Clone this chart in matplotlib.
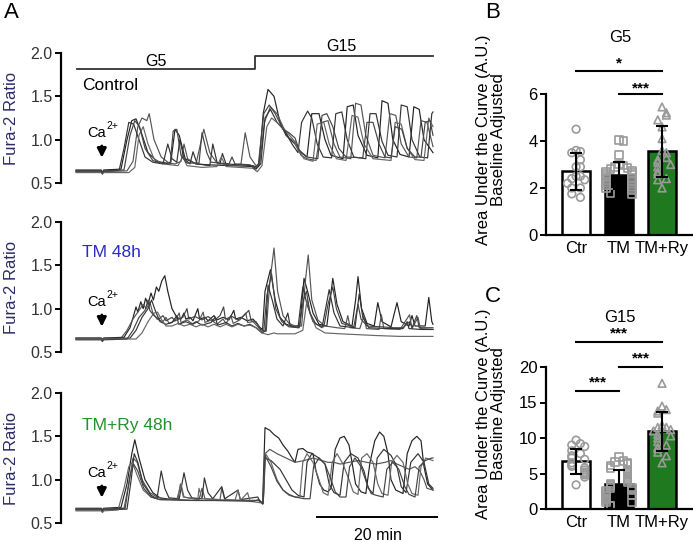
import numpy as np
import matplotlib
matplotlib.use('Agg')
import matplotlib.pyplot as plt

plt.rcParams['font.family'] = ['Liberation Sans', 'DejaVu Sans']
plt.rcParams['font.size'] = 11

# ---------------- data: Fura-2 traces (time in min, ratio) ----------------
ctrl_1 = [(0,0.65),(4.2,0.65),(4.4,0.62),(4.6,0.65),(7.5,0.66),(8.5,1.0),(9.3,1.22),(10.0,1.24),(10.8,1.1),(12,0.85),(13.5,0.75),(15,0.73),(15.8,0.74),(16.5,1.12),(17.2,1.05),(18.2,0.78),(20,0.72),(22,0.71),(26,0.70),(29.5,0.69),(30,0.66),(30.5,0.7),(31.2,1.3),(32.0,1.58),(33.0,1.5),(34,1.2),(35,1.05),(36.5,0.95),(37.5,0.85),(38.5,0.8),(39.3,1.3),(40.5,1.3),(41.5,1.0),(42.5,0.82),(44.5,0.78),(45.2,1.38),(46.2,1.4),(47,1.05),(48.5,0.82),(50.3,0.79),(51,1.45),(52,1.42),(52.8,1.0),(54,0.83),(55.5,0.8),(56.3,1.38),(57.2,1.35),(58,1.0),(59.5,0.85)]
ctrl_2 = [(0,0.63),(4.2,0.63),(4.4,0.61),(4.6,0.63),(8.5,0.64),(9.5,0.75),(10.3,1.15),(11,1.25),(11.8,1.22),(12.2,1.3),(13,1.0),(14.2,0.8),(15.5,0.73),(16.5,0.72),(17.5,0.75),(18,0.95),(18.6,0.78),(20,0.72),(21.3,1.12),(22.3,0.85),(23.5,0.73),(26,0.7),(27.5,0.72),(28.2,1.08),(29,0.8),(30,0.7),(30.6,0.72),(31.4,1.2),(32.4,1.38),(33.5,1.3),(34.5,1.15),(35.5,1.02),(36.5,0.98),(37.5,0.82),(38.5,0.78),(40,0.76),(41,1.2),(42,1.22),(43,0.95),(44,0.8),(45.8,0.78),(46.6,1.42),(47.5,1.4),(48.3,1.05),(49.5,0.82),(51.5,0.79),(52.3,1.3),(53.3,1.28),(54.2,0.95),(55.5,0.8),(56.8,0.79),(57.5,1.22),(58.5,1.2),(59.5,0.92)]
ctrl_3 = [(0,0.64),(4.2,0.64),(4.4,0.62),(4.6,0.64),(7.2,0.65),(8.0,0.9),(8.8,1.2),(9.6,1.18),(10.5,1.0),(11.5,0.8),(12.8,0.74),(14.5,0.72),(15.3,0.95),(16,0.78),(16.8,0.74),(17.3,1.0),(18,0.78),(19,0.72),(19.5,0.86),(20.2,0.72),(22.3,0.7),(22.8,0.95),(23.5,0.74),(24,0.72),(24.4,0.84),(25,0.72),(29.5,0.7),(30.2,0.68),(30.8,0.72),(31.5,1.25),(32.4,1.35),(33.5,1.2),(34.8,1.1),(36,0.95),(37,0.85),(37.6,1.2),(38.6,1.33),(39.3,1.25),(40.2,0.95),(41.2,0.8),(42.6,0.79),(43.3,1.3),(44.3,1.32),(45.2,1.0),(46.3,0.8),(48.3,0.78),(49,1.3),(50,1.3),(51,0.98),(52,0.82),(53.5,0.8),(54.2,1.4),(55.2,1.38),(56,1.0),(57.3,0.8),(58.6,0.79),(59.3,1.3),(59.5,1.32)]
ctrl_4 = [(0,0.62),(4.2,0.62),(4.4,0.60),(4.6,0.62),(8.8,0.62),(9.8,0.68),(10.5,1.05),(11.2,1.15),(12,0.95),(13,0.78),(14.5,0.72),(17,0.7),(17.8,0.8),(18.5,0.7),(21,0.68),(23.5,0.69),(24.2,0.8),(25,0.69),(29.5,0.67),(30.2,0.63),(31,0.7),(31.8,1.15),(32.6,1.25),(33.8,1.18),(35,1.1),(36.2,1.0),(37,0.88),(38,0.78),(39.5,0.75),(40.2,1.18),(41.3,1.2),(42.2,0.95),(43.4,0.78),(45,0.76),(46,1.28),(47,1.26),(48,0.95),(49.5,0.78),(52.5,0.76),(53.2,1.2),(54.2,1.18),(55.2,0.9),(56.5,0.77),(58,0.76),(58.8,1.25),(59.5,1.15)]
ctrl_5 = [(0,0.64),(4.2,0.64),(4.4,0.61),(4.6,0.64),(8.0,0.65),(9.0,1.05),(9.8,1.22),(10.6,1.15),(11.5,0.9),(12.8,0.76),(14,0.73),(15.7,0.72),(16.2,1.1),(16.8,1.12),(17.5,0.82),(18.5,0.73),(20.5,0.73),(21,1.08),(21.8,0.85),(22.5,0.74),(25.5,0.72),(26,0.8),(26.5,0.72),(29,0.71),(29.8,0.66),(30.4,0.72),(31.3,1.3),(32.2,1.4),(33.2,1.3),(34.5,1.12),(35.5,1.08),(36.5,1.02),(37.2,0.88),(38.5,0.8),(40.3,0.78),(41,1.28),(41.8,1.3),(42.8,1.15),(43.8,0.9),(45,0.8),(47.8,0.79),(48.5,1.2),(49.5,1.2),(50.5,0.95),(51.5,0.8),(52.5,0.79),(53.2,1.15),(54.3,1.12),(55.2,0.9),(56.5,0.8),(57.5,0.8),(58.2,1.2),(59.0,1.22),(59.5,1.05)]

tm_1 = [(0,0.66),(4.2,0.66),(4.4,0.64),(4.6,0.66),(8,0.67),(9,0.78),(9.6,0.92),(10,1.02),(10.3,0.96),(10.8,1.08),(11.2,1.0),(11.6,1.12),(12,1.05),(12.5,1.18),(12.9,1.1),(13.4,1.25),(13.8,1.2),(14.3,1.32),(14.8,1.38),(15.3,1.2),(16,1.0),(16.8,0.9),(17.5,0.88),(18,0.95),(18.3,0.88),(19,0.9),(19.5,0.86),(20.3,1.0),(20.6,0.88),(21.5,0.9),(22,0.86),(23,0.92),(23.5,0.87),(24.5,0.9),(25.5,0.87),(26.3,0.98),(26.6,0.88),(27.5,0.9),(28.5,0.86),(29.5,0.88),(30,0.84),(30.7,0.78),(31.1,0.76),(31.5,1.2),(32.4,1.45),(33.2,1.1),(34,0.9),(35,0.82),(36,0.8),(37.3,0.8),(38,1.35),(38.6,1.2),(39.5,0.95),(40.5,0.82),(41.8,0.8),(42.8,1.35),(43.5,1.05),(44.5,0.85),(46,0.8),(46.6,1.1),(47,1.37),(47.6,1.0),(48.5,0.83),(49.7,0.8),(50.3,1.07),(51,0.85),(52.5,0.79),(53.5,1.07),(54.2,0.85),(55.5,0.8),(56,0.92),(56.5,0.8),(58.2,0.8),(58.8,1.13),(59.3,0.85),(59.5,0.82)]
tm_2 = [(0,0.65),(4.2,0.65),(4.4,0.63),(4.6,0.65),(7.5,0.66),(8.5,0.75),(9.5,0.88),(10.5,0.98),(11.2,1.05),(11.7,1.0),(12.3,1.08),(12.8,0.95),(13.5,0.88),(14.5,0.85),(15,0.9),(15.5,0.83),(16.5,0.86),(17.2,0.95),(17.5,0.84),(18.5,0.87),(19.5,0.82),(20.5,0.86),(21.2,0.96),(21.5,0.84),(22.5,0.87),(23.5,0.82),(24.5,0.88),(25,0.83),(25.8,0.92),(26.2,0.83),(27.3,0.87),(28.3,0.95),(28.6,0.84),(29.5,0.85),(30.2,0.8),(31,0.73),(31.7,0.74),(32.3,1.3),(33,1.7),(33.6,1.2),(34.5,0.92),(35.5,0.83),(36.5,0.8),(37.6,0.8),(38.2,1.3),(38.7,1.62),(39.3,1.1),(40.3,0.87),(41.5,0.8),(42.5,0.79),(43.5,0.78),(44.8,0.77),(45.3,0.92),(45.7,0.78),(47.3,0.77),(48,0.92),(48.4,0.77),(50.5,0.76),(50.9,0.93),(51.3,0.77),(54,0.76),(55.6,0.93),(56,0.77),(57,0.9),(57.4,0.77),(59.5,0.76)]
tm_3 = [(0,0.66),(4.2,0.66),(4.4,0.64),(4.6,0.66),(9,0.66),(10,0.75),(11,0.9),(12,1.0),(12.6,1.1),(13.2,0.98),(14,0.85),(15,0.82),(16,0.84),(16.8,0.92),(17.1,0.82),(18.3,0.85),(19.3,0.82),(20,0.85),(21,0.81),(22.5,0.84),(23.2,0.9),(23.6,0.81),(25,0.84),(26,0.8),(27,0.83),(28,0.8),(29,0.82),(30,0.78),(31,0.72),(31.6,0.75),(32.0,1.27),(32.7,1.1),(33.5,0.88),(34.5,0.8),(35.3,0.95),(35.7,0.8),(37.0,0.78),(37.8,1.25),(38.5,1.05),(39.5,0.85),(41,0.78),(42.2,1.22),(43,0.95),(44,0.8),(46.5,0.78),(47.2,1.17),(47.8,0.9),(48.8,0.78),(52,0.77),(54.5,0.77),(55.2,0.85),(55.5,0.77),(57.5,0.76),(59.5,0.76)]
tm_4 = [(0,0.65),(4.2,0.65),(4.4,0.63),(4.6,0.65),(10,0.65),(11,0.72),(12,0.85),(13,0.95),(13.6,0.96),(14.2,0.88),(15,0.8),(16,0.8),(17,0.83),(18,0.8),(19,0.82),(20,0.79),(21,0.82),(22,0.79),(23,0.82),(24,0.79),(25,0.82),(26,0.79),(27,0.82),(28,0.8),(29,0.81),(30,0.78),(31,0.72),(32,0.7),(33,0.72),(33.5,0.71),(36.5,0.71),(37.8,0.75),(38.5,1.1),(39,0.95),(40,0.78),(41.5,0.72),(44,0.71),(47,0.7),(50,0.69),(54,0.68),(59.5,0.68)]
tm_5 = [(0,0.64),(4.2,0.64),(4.4,0.62),(4.6,0.64),(8.5,0.65),(9.5,0.75),(10.5,0.9),(11.5,0.98),(12,1.1),(12.3,0.98),(13,0.92),(13.8,0.88),(14.5,0.92),(15,0.86),(16,0.9),(16.5,0.86),(17.8,0.9),(18.5,1.0),(18.8,0.88),(19.8,0.91),(21,0.87),(22,0.91),(23,0.86),(24,0.92),(24.6,1.02),(24.9,0.88),(26,0.91),(27,0.87),(28,0.92),(28.8,0.98),(29.2,0.86),(30,0.85),(30.8,0.76),(31.3,0.74),(31.8,1.15),(32.6,1.4),(33.3,1.0),(34.3,0.85),(35.5,0.79),(37.2,0.78),(37.9,1.1),(38.4,1.2),(39,0.95),(40,0.82),(41.3,0.79),(42,1.05),(42.8,1.25),(43.4,1.0),(44.3,0.83),(46.3,0.79),(47,1.05),(47.5,0.88),(48.5,0.8),(51,0.79),(53,0.78),(54.5,0.78),(55.6,0.85),(56,0.78),(56.8,0.92),(57.2,0.78),(59.5,0.78)]

ry_1 = [(0,0.67),(4.2,0.67),(4.4,0.65),(4.6,0.67),(7.5,0.68),(8.5,0.95),(9.3,1.3),(9.8,1.46),(10.5,1.25),(11.5,1.0),(12.8,0.85),(14,0.79),(16,0.77),(20,0.76),(24,0.76),(28,0.76),(30.5,0.76),(31.1,0.72),(31.5,1.6),(32.3,1.57),(33.0,1.52),(33.8,1.48),(34.5,1.4),(35.3,1.33),(36,1.25),(36.5,1.2),(37.0,1.35),(37.8,1.36),(38.5,1.32),(39.5,1.3),(40,1.1),(40.6,0.95),(41.3,0.88),(42,0.86),(42.5,0.9),(43.2,1.35),(44,1.48),(44.7,1.5),(45.5,1.4),(46,1.2),(46.6,0.95),(47.5,0.86),(48.3,0.84),(49,1.2),(49.8,1.45),(50.6,1.55),(51.3,1.5),(52,1.3),(52.5,1.0),(53.3,0.88),(54.5,0.84),(55.2,1.3),(56,1.45),(56.8,1.5),(57.5,1.45),(58,1.15),(58.6,0.95),(59.5,0.88)]
ry_2 = [(0,0.66),(4.2,0.66),(4.4,0.64),(4.6,0.66),(8,0.67),(8.8,0.95),(9.5,1.25),(10.2,1.2),(11,1.0),(12.3,0.85),(13.5,0.8),(15,0.77),(17,0.78),(17.4,0.95),(17.9,0.8),(20.5,0.77),(21,0.9),(21.5,0.78),(24,0.77),(24.3,0.9),(24.8,0.77),(28,0.76),(30.5,0.76),(31.1,0.72),(31.5,1.3),(32.3,1.35),(33.5,1.3),(35,1.25),(36.5,1.2),(38,1.22),(39.5,1.25),(41,1.22),(42,1.2),(43,1.2),(44,1.18),(45.5,1.2),(47,1.22),(48.5,1.2),(50,1.18),(51.5,1.2),(52.5,1.22),(53.5,1.18),(54.5,1.15),(55.5,1.12),(56.5,1.15),(57.3,1.1),(58,1.0),(58.5,0.9),(59.5,0.88)]
ry_3 = [(0,0.65),(4.2,0.65),(4.4,0.63),(4.6,0.65),(8.5,0.66),(9.2,1.0),(9.7,1.3),(10.3,1.2),(11.2,0.95),(12.5,0.82),(13.5,0.78),(14.2,1.1),(14.8,0.9),(15.5,0.79),(17.2,0.78),(18,1.08),(18.6,0.88),(19.3,0.79),(21,0.78),(21.4,1.02),(22,0.85),(22.8,0.78),(24.3,0.92),(24.8,0.78),(27,0.88),(27.4,0.77),(30.3,0.8),(30.6,0.75),(31.2,0.73),(31.5,1.25),(32.5,1.22),(34,1.12),(35,1.0),(36,0.88),(37,0.82),(38,0.8),(38.5,1.2),(39.3,1.3),(40.5,1.25),(41.5,1.18),(42.2,0.95),(43,0.85),(44,0.82),(44.7,1.2),(45.8,1.3),(47,1.25),(48,1.1),(48.7,0.9),(49.5,0.84),(50.2,1.25),(51.3,1.35),(52.5,1.28),(53.5,1.15),(54.2,0.92),(55,0.85),(55.8,1.2),(57,1.3),(58,1.2),(58.8,0.95),(59.5,0.9)]
ry_4 = [(0,0.64),(4.2,0.64),(4.4,0.62),(4.6,0.64),(7,0.65),(8,0.9),(8.8,1.15),(9.4,1.2),(10.2,1.05),(11.2,0.88),(12.5,0.8),(14,0.77),(16.8,0.77),(17.5,0.95),(18,0.8),(20.3,0.77),(20.5,0.9),(21,0.78),(26.5,0.76),(27,0.88),(27.4,0.76),(28.6,0.85),(29,0.75),(31.2,0.73),(31.6,1.3),(32.5,1.2),(33.5,1.0),(34.5,0.88),(35.5,0.82),(36.5,0.8),(37.3,0.8),(37.8,1.2),(38.5,1.3),(39.5,1.2),(40.5,1.0),(41.2,0.85),(42,0.82),(42.7,1.2),(43.5,1.3),(44.5,1.18),(45.5,1.0),(46.2,0.86),(47,0.83),(47.6,1.25),(48.5,1.3),(49.5,1.2),(50.3,0.95),(51,0.84),(52,0.82),(52.6,1.2),(53.5,1.28),(54.5,1.2),(55.3,0.95),(56,0.84),(57,0.82),(57.5,1.15),(58.3,1.25),(59.5,1.22)]
ry_5 = [(0,0.66),(4.2,0.66),(4.4,0.64),(4.6,0.66),(8.2,0.67),(9,1.05),(9.6,1.18),(10.3,1.1),(11.3,0.9),(12.5,0.8),(14,0.77),(19,0.76),(23,0.76),(29.5,0.75),(30.5,0.77),(31.2,0.72),(31.5,1.28),(32.5,1.15),(33.5,0.98),(34.5,0.88),(35.5,0.83),(36.5,0.8),(38,0.78),(39,0.78),(39.6,1.15),(40.5,1.25),(41.5,1.18),(42.5,1.0),(43.2,0.86),(44,0.8),(45,0.8),(45.6,1.15),(46.5,1.25),(47.5,1.15),(48.5,0.95),(49.2,0.84),(50,0.82),(51.2,0.8),(51.8,1.12),(52.8,1.2),(53.8,1.12),(54.8,0.92),(55.5,0.83),(56.5,0.8),(57.2,1.15),(58.2,1.22),(59.3,1.25),(59.5,1.25)]

# ---------------- data: area under the curve ----------------
groups = ['Ctr', 'TM', 'TM+Ry']
ctr_g5 = [4.5, 3.6, 3.55, 3.5, 3.2, 2.9, 2.9, 2.5, 2.35, 2.5, 2.4, 2.2, 2.0, 2.0, 1.75, 1.6]
tm_g5 = [4.05, 4.0, 3.4, 3.0, 2.95, 2.9, 2.85, 2.8, 2.75, 2.7, 2.65, 2.6, 2.55, 2.5,
         2.45, 2.4, 2.35, 2.3, 2.25, 2.2, 2.15, 2.1, 2.05, 2.0, 1.95, 1.9, 1.8, 1.75]
tmry_g5 = [5.45, 5.2, 5.1, 4.9, 4.6, 4.1, 3.6, 3.5, 3.3, 3.2, 3.1, 3.0, 2.9, 2.7, 2.6, 2.4, 2.35, 2.0]
ctr_g15 = [9.7, 9.2, 9.0, 8.8, 8.2, 7.8, 7.5, 7.2, 7.0, 6.5, 6.2, 6.0, 5.8, 5.5, 5.0, 4.8, 3.4, 5.2, 4.5]
tm_g15 = [7.3, 6.8, 6.6, 6.5, 6.3, 6.1, 5.8, 5.5, 5.2, 5.0, 4.7, 4.5, 4.2, 4.0, 3.8, 3.6, 3.4, 3.2,
          3.0, 3.0, 2.8, 2.6, 2.5, 2.4, 2.2, 2.0, 1.9, 1.8, 1.6, 1.5, 1.4, 1.2, 1.0, 0.9, 0.5, 0.4]
tmry_g15 = [17.7, 14.5, 14.0, 13.8, 13.5, 11.5, 11.2, 11.5, 11.0, 10.5, 10.0, 9.5, 8.5, 8.0, 7.5,
            6.5, 11.8, 10.3, 9.0, 8.7]

W, H = 693, 542
fig = plt.figure(figsize=(W / 100, H / 100), dpi=100)


def px_axes(x0, y_top, x1, y_bot):
    return fig.add_axes([x0 / W, 1 - y_bot / H, (x1 - x0) / W, (y_bot - y_top) / H])


trace_cols = ['#222222', '#555555', '#333333', '#666666', '#444444']
panels = [
    ([ctrl_1, ctrl_2, ctrl_3, ctrl_4, ctrl_5], 53, 'Control', 'black', 1.62),
    ([tm_1, tm_2, tm_3, tm_4, tm_5], 222, 'TM 48h', '#2a2ac8', 1.65),
    ([ry_1, ry_2, ry_3, ry_4, ry_5], 393, 'TM+Ry 48h', '#22922a', 1.62),
]
trace_axes = []
for traces, ytop, lab, lab_col, lab_y in panels:
    ax = px_axes(61, ytop, 445, ytop + 130)
    for tr, c in zip(traces, trace_cols):
        t, v = zip(*tr)
        ax.plot(t, v, color=c, lw=0.85)
    ax.set_xlim(-2.5, 61.5)
    ax.set_ylim(0.5, 2.0)
    ax.set_yticks([0.5, 1.0, 1.5, 2.0])
    ax.set_yticklabels(['0.5', '1.0', '1.5', '2.0'], fontsize=11.5, color='#333333')
    ax.set_xticks([])
    for s in ['top', 'right', 'bottom']:
        ax.spines[s].set_visible(False)
    ax.spines['left'].set_linewidth(1.6)
    ax.tick_params(axis='y', length=4, width=1.4, pad=2)
    ax.set_ylabel('Fura-2 Ratio', fontsize=12, color='#2b2b6b', labelpad=8)
    ax.text(1.0, lab_y, lab, color=lab_col, fontsize=12.5, ha='left', va='center')
    # Ca2+ label, with the charge drawn as a small raised text
    ax.annotate('Ca', (4.3, 1.08), xytext=(3, 0), textcoords='offset points',
                fontsize=10.5, ha='right', va='center')
    ax.annotate('2+', (4.3, 1.08), xytext=(3, 5), textcoords='offset points',
                fontsize=7.5, ha='left', va='center')
    ax.annotate('', xy=(4.3, 0.76), xytext=(4.3, 0.96),
                arrowprops=dict(arrowstyle='-|>', color='k', lw=2.0, mutation_scale=13))
    trace_axes.append(ax)

ax = trace_axes[0]
ax.plot([0.1, 29.8, 29.8, 59.5], [1.815, 1.815, 1.965, 1.965], color='#333333', lw=1.3, clip_on=False)
ax.text(13.3, 1.9, 'G5', fontsize=11.5, ha='center', va='center')
ax.text(44.2, 2.07, 'G15', fontsize=11.5, ha='center', va='center', clip_on=False)

ax = trace_axes[2]
ax.plot([40.2, 60.2], [0.57, 0.57], color='k', lw=1.4, clip_on=False)
ax.text(50.3, 0.36, '20 min', fontsize=11.5, ha='center', va='center', clip_on=False)


# ---------------- bar panels ----------------
def swarm(vals, dy, step):
    slots = [0, 1, -1, 2, -2, 3, -3]
    order = np.argsort(vals)[::-1]
    offs = np.zeros(len(vals))
    placed = []
    for i in order:
        n = sum(1 for p in placed if abs(p - vals[i]) < dy)
        offs[i] = slots[n % len(slots)] * step
        placed.append(vals[i])
    return offs


bar_cols = ['white', 'black', '#1f7a1f']
markers = ['o', 's', '^']


def bar_panel(ax, sets, dy, ymax, yticks):
    x = np.arange(len(sets))
    means = [np.mean(s) for s in sets]
    sds = [np.std(s, ddof=1) for s in sets]
    ax.bar(x, means, width=0.64, color=bar_cols, edgecolor='k', linewidth=1.8, zorder=1)
    for i, s in enumerate(sets):
        s = np.array(s)
        ax.scatter(i + swarm(s, dy, 0.1), s, marker=markers[i], s=30, facecolors='none',
                   edgecolors='#9a9a9a', linewidths=1.2, zorder=2)
    ax.errorbar(x, means, yerr=sds, fmt='none', ecolor='k', elinewidth=1.5,
                capsize=4.5, capthick=1.5, zorder=3)
    ax.set_xlim(-0.7, 2.72)
    ax.set_ylim(0, ymax)
    ax.set_yticks(yticks)
    ax.set_xticks(x)
    ax.set_xticklabels(groups, fontsize=12)
    ax.tick_params(axis='x', length=0, pad=4)
    ax.tick_params(axis='y', length=4, width=1.4, labelsize=12, pad=2)
    for sname in ['top', 'right']:
        ax.spines[sname].set_visible(False)
    ax.spines['left'].set_linewidth(1.6)
    ax.spines['bottom'].set_linewidth(1.6)


def sig(ax, x0, x1, y, txt, ystar):
    ax.plot([x0, x1], [y, y], color='k', lw=1.5, clip_on=False)
    ax.text((x0 + x1) / 2, ystar, txt, ha='center', va='center', fontsize=11,
            fontweight='bold', clip_on=False)


axB = px_axes(546, 94, 693, 235)
bar_panel(axB, [ctr_g5, tm_g5, tmry_g5], 0.3, 6, [0, 2, 4, 6])
sig(axB, 0, 2, 7.0, '*', 7.3)
sig(axB, 1, 2, 6.0, '***', 6.25)

axC = px_axes(546, 367, 693, 509)
bar_panel(axC, [ctr_g15, tm_g15, tmry_g15], 0.9, 20, [0, 5, 10, 15, 20])
sig(axC, 0, 2, 23.5, '***', 24.7)
sig(axC, 1, 2, 20.0, '***', 21.2)
sig(axC, 0, 1, 16.6, '***', 17.8)

ylab = 'Area Under the Curve (A.U.)\nBaseline Adjusted'
fig.text(491 / W, 1 - 140 / H, ylab, fontsize=12, rotation=90, ha='center', va='center',
         multialignment='center', linespacing=1.05)
fig.text(491 / W, 1 - 414 / H, ylab, fontsize=12, rotation=90, ha='center', va='center',
         multialignment='center', linespacing=1.05)

fig.text(620 / W, 1 - 37 / H, 'G5', fontsize=12, ha='center', va='center')
fig.text(620 / W, 1 - 317 / H, 'G15', fontsize=12, ha='center', va='center')

fig.text(4 / W, 1 - 12 / H, 'A', fontsize=16, ha='left', va='center')
fig.text(485 / W, 1 - 12 / H, 'B', fontsize=16, ha='left', va='center')
fig.text(485 / W, 1 - 297 / H, 'C', fontsize=16, ha='left', va='center')

fig.savefig('out.png', dpi=100)
